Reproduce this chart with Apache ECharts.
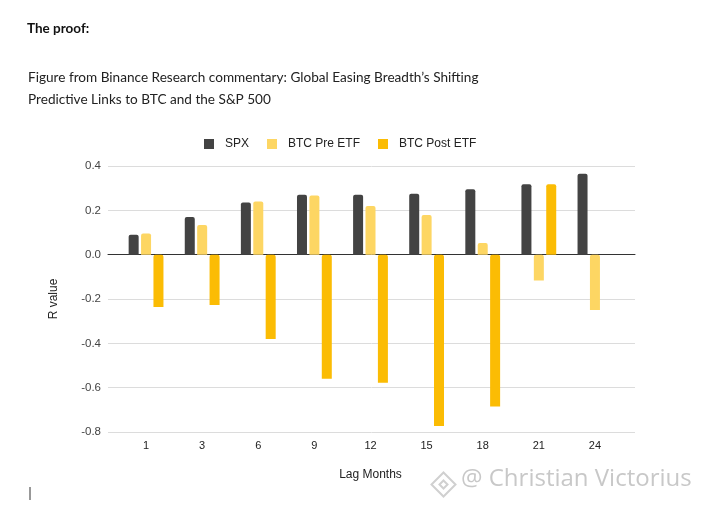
<!DOCTYPE html>
<html><head><meta charset="utf-8">
<script src="https://cdn.jsdelivr.net/npm/echarts@6/dist/echarts.min.js"></script>
<style>html,body{margin:0;padding:0;background:#fff}#c{width:701px;height:506px}</style>
</head><body><div id="c"></div>
<script>
const categories = ['1','3','6','9','12','15','18','21','24'];
const spx = [0.09, 0.17, 0.235, 0.27, 0.27, 0.275, 0.295, 0.318, 0.365];
const btcPre = [0.095, 0.134, 0.24, 0.267, 0.22, 0.179, 0.053, -0.117, -0.25];
const btcPost = [-0.236, -0.227, -0.38, -0.56, -0.578, -0.773, -0.685, 0.318, null];
const seriesNames = ['SPX', 'BTC Pre ETF', 'BTC Post ETF'];
const colors = ['#434343', '#fdd663', '#fbbc04'];

const chart = echarts.init(document.getElementById('c'), null, {renderer:'canvas'});
const yCommon = {type:'value', min:-0.8, max:0.4, interval:0.2};
const bar = (name, data, color) => ({
  name, type:'bar', data, xAxisIndex:1, yAxisIndex:1,
  barWidth:10, barGap:'24%',
  itemStyle:{color, borderRadius:[2,2,0,0]}
});
chart.setOption({
  animation:false,
  color: colors,
  grid:[
    {left:108, right:66, top:166, bottom:74},
    {left:118, right:78, top:166, bottom:74}
  ],
  legend:{
    top:133, left:199, itemWidth:10, itemHeight:10, itemGap:18,
    icon:'rect',
    textStyle:{fontFamily:'Liberation Sans, Arial', fontSize:12, color:'#222', padding:[0,0,0,6]},
    data: seriesNames
  },
  xAxis:[
    {gridIndex:0, type:'value', min:0, max:1, show:true,
     axisLine:{show:true, onZero:true, lineStyle:{color:'#333', width:1}},
     axisTick:{show:false}, axisLabel:{show:false}, splitLine:{show:false}},
    {gridIndex:1, type:'category', data:categories,
     axisLine:{show:false}, axisTick:{show:false},
     axisLabel:{fontFamily:'Liberation Sans, Arial', fontSize:11, color:'#222', margin:8},
     name:'Lag Months', nameLocation:'middle', nameGap:37,
     nameTextStyle:{fontFamily:'Liberation Sans Narrow, Liberation Sans, Arial', fontSize:12, color:'#222'}}
  ],
  yAxis:[
    Object.assign({gridIndex:0}, yCommon, {
      axisLine:{show:false}, axisTick:{show:false},
      axisLabel:{fontFamily:'Liberation Sans, Arial', fontSize:11.5, color:'#444', margin:7,
        formatter: v => v.toFixed(1)},
      splitLine:{lineStyle:{color:'#dcdcdc', width:1}},
      name:'R value', nameLocation:'middle', nameGap:48, nameRotate:90,
      nameTextStyle:{fontFamily:'Liberation Sans, Arial', fontSize:12, color:'#222'}
    }),
    Object.assign({gridIndex:1}, yCommon, {show:false, splitLine:{show:false}})
  ],
  series:[
    bar(seriesNames[0], spx, colors[0]),
    bar(seriesNames[1], btcPre, colors[1]),
    bar(seriesNames[2], btcPost, colors[2])
  ],
  graphic:[
    {type:'text', left:27, top:22, style:{text:'The proof:', fontFamily:'Lato, Open Sans', fontWeight:'bold', fontSize:13.5, fill:'#111'}},
    {type:'text', left:28, top:67, style:{text:'Figure from Binance Research commentary: Global Easing Breadth\u2019s Shifting\nPredictive Links to BTC and the S&P 500', fontFamily:'Lato, Open Sans', fontSize:13.6, lineHeight:22, fill:'#222'}},
    {type:'group', left:429, top:470, children:[
      {type:'polygon', shape:{points:[[12,0],[24,12],[12,24],[0,12]]}, style:{fill:'none', stroke:'#d0d0d0', lineWidth:2}},
      {type:'polygon', shape:{points:[[12,8],[16,12],[12,16],[8,12]]}, style:{fill:'none', stroke:'#d0d0d0', lineWidth:2}}
    ]},
    {type:'text', left:461, top:467, style:{text:'@ Christian Victorius', fontFamily:'Open Sans, Noto Sans', fontSize:24, fill:'#c8c8c8'}},
    {type:'line', shape:{x1:30, y1:487, x2:30, y2:500}, style:{stroke:'#333', lineWidth:1}}
  ]
});
</script></body></html>
